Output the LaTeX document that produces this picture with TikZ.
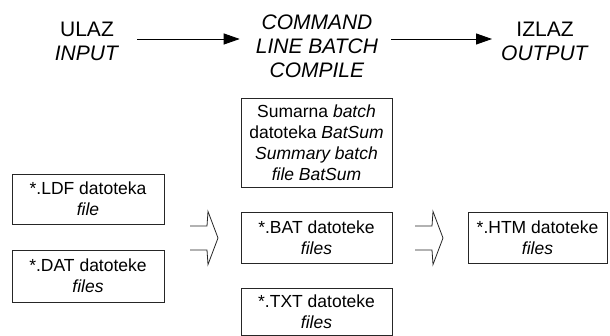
\documentclass[tikz,border=0pt]{standalone}
\usepackage{fontspec}
\setmainfont{Liberation Sans}
\usetikzlibrary{arrows.meta}

\begin{document}
\begin{tikzpicture}[x=1pt, y=-1pt,
    box/.style={draw=black!85, line width=0.8pt, align=center, inner sep=1pt, font=\fontsize{17.5}{21}\selectfont},
    stage/.style={align=center, inner sep=0pt, font=\fontsize{21}{24}\selectfont},
    flow/.style={-{Triangle[length=16pt, width=11pt]}, line width=0.9pt},
    pics/openarrow/.style={code={\draw[line width=0.8pt, black!85] (0,-12) -- (17,-12) -- (18,-26.5) -- (28,0) -- (18,26.5) -- (17,12) -- (0,12);}}]
    \useasboundingbox (0,0) rectangle (610,336);

    %stages
    \node[stage] (in) at (87,41) {ULAZ\\\textit{INPUT}};
    \node[stage] (cmd) at (317,46) {\textit{COMMAND}\\\textit{LINE BATCH}\\\textit{COMPILE}};
    \node[stage] (out) at (545,41) {IZLAZ\\\textit{OUTPUT}};

    %boxes
    \node[box, minimum width=152, minimum height=50] (ldf) at (88,199) {*.LDF datoteka\\\textit{file}};
    \node[box, minimum width=152, minimum height=52] (dat) at (88,276) {*.DAT datoteke\\\textit{files}};
    \node[box, minimum width=151, minimum height=89] (sum) at (316.5,142.5) {Sumarna \textit{batch}\\datoteka \textit{BatSum}\\\textit{Summary batch}\\\textit{file BatSum}};
    \node[box, minimum width=151, minimum height=51] (bat) at (316.5,237.5) {*.BAT datoteke\\\textit{files}};
    \node[box, minimum width=151, minimum height=47] (txt) at (316.5,311.5) {*.TXT datoteke\\\textit{files}};
    \node[box, minimum width=139, minimum height=51] (htm) at (537.5,237.5) {*.HTM datoteke\\\textit{files}};

    %arrows
    \draw[flow, shorten <=18pt, shorten >=16pt] ([yshift=2pt]in.east) -- ([yshift=2pt]in.east -| cmd.west);
    \draw[flow, shorten <=13pt, shorten >=9pt] ([yshift=2pt]cmd.east |- out.west) -- ([yshift=2pt]out.west);
    \pic at (190,238) {openarrow};
    \pic at (415,238) {openarrow};

\end{tikzpicture}
\end{document}
